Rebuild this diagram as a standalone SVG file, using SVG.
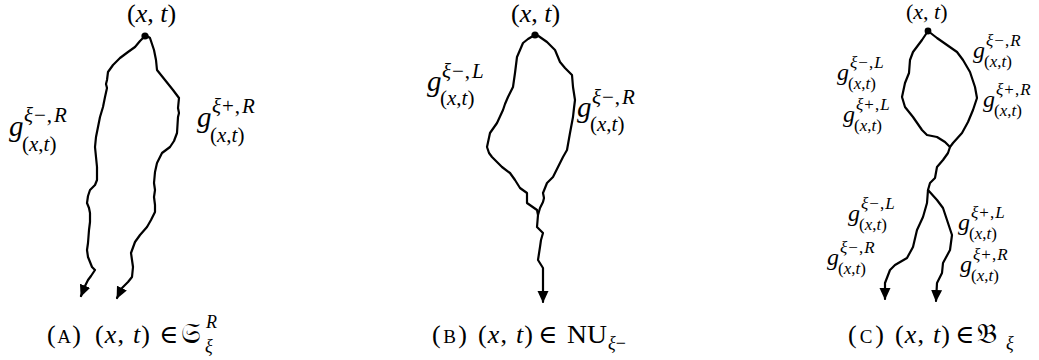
<svg xmlns="http://www.w3.org/2000/svg" width="1039" height="360" viewBox="0 0 1039 360">
<style>
text{font-family:"Liberation Serif","DejaVu Serif",serif;fill:#000}
.i{font-style:italic}
.g{font-size:29px;font-style:italic}
.s{font-size:21px}
.cs{font-size:18px}
.gc{font-size:24px;font-style:italic}
.sc{font-size:17px}
.top{font-size:26px}
.cap{font-size:26px}
.frak{font-family:"DejaVu Serif","DejaVu Sans","Noto Sans",serif;font-size:28px}
.p{fill:none;stroke:#000;stroke-width:2.2;stroke-linejoin:round;stroke-linecap:round}
.ar{marker-end:url(#ah)}
</style>
<defs>
<marker id="ah" viewBox="0 0 12 12" refX="11" refY="6" markerWidth="12" markerHeight="12" markerUnits="userSpaceOnUse" orient="auto">
<path d="M0,0.5 L12,6 L0,11.5 z" fill="#000"/>
</marker>
</defs>
<g id="connectors">
<path class="p ar" d="M145,36 L140,41 L135,47 L128,52 L120,58 L113,65 L108,72 L107,80 L106,84 L107,88 L105,97 L103,107 L100,117 L99,122 L98,127 L96,137 L95,147 L96,157 L97,167 L97,180 L95,185 L90,190 L88,196 L87,203 L89,208 L90,213 L90,222 L89,230 L88,243 L87,250 L88,257 L92,267 L95,270 L91,276 L88,280 L85,286 L81,296"/>
<path class="p ar" d="M147,36 L150,38 L152,44 L154,50 L156,60 L157,70 L161,75 L165,80 L173,90 L179,98 L178,108 L179,113 L178,117 L177,133 L174,141 L170,147 L162,153 L157,163 L155,172 L154,183 L155,190 L154,197 L155,205 L155,212 L151,220 L147,227 L140,235 L135,242 L131,253 L132,260 L133,267 L132,277 L128,282 L122,288 L117,298"/>
<path class="p" d="M533,36 L528,39 L523,43 L520,50 L517,57 L515,73 L513,87 L508,97 L505,104 L503,110 L497,123 L490,133 L487,147 L489,153 L492,157 L502,167 L510,173 L515,180 L520,188 L527,193 L527,203 L537,210 L538,215"/>
<path class="p" d="M537,35 L547,42 L555,50 L560,62 L565,68 L572,75 L573,87 L575,100 L574,108 L573,117 L570,133 L567,150 L563,157 L560,163 L553,177 L547,183 L543,193 L544,198 L543,202 L540,208 L538,215"/>
<path class="p ar" d="M538,215 L537,227 L543,233 L541,240 L540,247 L538,260 L543,268 L543,302"/>
<path class="p" d="M928,31 L922,40 L913,52 L910,60 L909,73 L905,83 L902,97 L905,107 L913,117 L922,130 L927,135 L937,137 L945,142 L950,147"/>
<path class="p" d="M928,31 L937,38 L947,45 L957,52 L963,60 L970,72 L975,87 L977,98 L973,110 L968,122 L962,133 L953,143 L950,147"/>
<path class="p" d="M950,147 L948,153 L943,160 L937,167 L935,178 L930,183 L928,190"/>
<path class="p ar" d="M928,190 L927,203 L923,217 L917,230 L913,247 L907,258 L895,265 L890,270 L885,283 L885,299"/>
<path class="p ar" d="M928,190 L937,200 L943,208 L947,220 L952,235 L950,250 L943,263 L942,273 L937,283 L936,301"/>
</g>
<g id="panelA">
<circle cx="145" cy="36" r="3.6"/>
<text class="top" x="127" y="22">(<tspan class="i">x</tspan>, <tspan class="i">t</tspan>)</text>
<g id="labelA1">
<text class="g" x="9" y="136">g</text>
<text class="s" x="24" y="122"><tspan class="i">ξ</tspan><tspan dx="1">−</tspan><tspan dx="1">,</tspan><tspan class="i" dx="2">R</tspan></text>
<text class="s" x="22" y="151">(<tspan class="i">x</tspan>,<tspan class="i">t</tspan>)</text>
</g>
<g id="labelA2">
<text class="g" x="197" y="127">g</text>
<text class="s" x="212" y="113"><tspan class="i">ξ</tspan><tspan dx="1">+</tspan><tspan dx="1">,</tspan><tspan class="i" dx="2">R</tspan></text>
<text class="s" x="210" y="142">(<tspan class="i">x</tspan>,<tspan class="i">t</tspan>)</text>
</g>
<text class="cap" x="47" y="343" textLength="34" lengthAdjust="spacing">(<tspan font-size="19">A</tspan>)</text>
<text class="cap" x="95" y="343" textLength="55" lengthAdjust="spacing">(<tspan class="i">x</tspan>, <tspan class="i">t</tspan>)</text>
<text class="cap" x="159" y="343">∈</text>
<text class="frak" x="181" y="343">𝔖</text>
<text class="cs i" x="206" y="328">R</text>
<text class="cs i" x="205" y="352">ξ</text>
</g>
<g id="panelB">
<circle cx="535" cy="35" r="3.6"/>
<text class="top" x="511" y="22">(<tspan class="i">x</tspan>, <tspan class="i">t</tspan>)</text>
<g id="labelB1">
<text class="g" x="427" y="91">g</text>
<text class="s" x="442" y="78"><tspan class="i">ξ</tspan><tspan dx="1">−</tspan><tspan dx="1">,</tspan><tspan class="i" dx="2">L</tspan></text>
<text class="s" x="440" y="105">(<tspan class="i">x</tspan>,<tspan class="i">t</tspan>)</text>
</g>
<g id="labelB2">
<text class="g" x="577" y="117">g</text>
<text class="s" x="592" y="104"><tspan class="i">ξ</tspan><tspan dx="1">−</tspan><tspan dx="1">,</tspan><tspan class="i" dx="2">R</tspan></text>
<text class="s" x="590" y="131">(<tspan class="i">x</tspan>,<tspan class="i">t</tspan>)</text>
</g>
<text class="cap" x="432" y="343" textLength="35" lengthAdjust="spacing">(<tspan font-size="19">B</tspan>)</text>
<text class="cap" x="478" y="343" textLength="55" lengthAdjust="spacing">(<tspan class="i">x</tspan>, <tspan class="i">t</tspan>)</text>
<text class="cap" x="538" y="343">∈</text>
<text class="cap" x="567" y="343" textLength="40" lengthAdjust="spacingAndGlyphs">NU</text>
<text class="cs" x="608" y="349"><tspan class="i">ξ</tspan>−</text>
</g>
<g id="panelC">
<circle cx="928" cy="31" r="3.4"/>
<text class="top" x="906" y="19" style="font-size:22px">(<tspan class="i">x</tspan>, <tspan class="i">t</tspan>)</text>
<g id="labelC1">
<text class="gc" x="837" y="80">g</text>
<text class="sc" x="850" y="68"><tspan class="i">ξ</tspan><tspan dx="1">−</tspan><tspan dx="1">,</tspan><tspan class="i" dx="1">L</tspan></text>
<text class="sc" x="848" y="89">(<tspan class="i">x</tspan>,<tspan class="i">t</tspan>)</text>
</g>
<g id="labelC2">
<text class="gc" x="843" y="122">g</text>
<text class="sc" x="856" y="110"><tspan class="i">ξ</tspan><tspan dx="1">+</tspan><tspan dx="1">,</tspan><tspan class="i" dx="1">L</tspan></text>
<text class="sc" x="854" y="131">(<tspan class="i">x</tspan>,<tspan class="i">t</tspan>)</text>
</g>
<g id="labelC3">
<text class="gc" x="973" y="58">g</text>
<text class="sc" x="986" y="46"><tspan class="i">ξ</tspan><tspan dx="1">−</tspan><tspan dx="1">,</tspan><tspan class="i" dx="1">R</tspan></text>
<text class="sc" x="984" y="67">(<tspan class="i">x</tspan>,<tspan class="i">t</tspan>)</text>
</g>
<g id="labelC4">
<text class="gc" x="983" y="107">g</text>
<text class="sc" x="996" y="95"><tspan class="i">ξ</tspan><tspan dx="1">+</tspan><tspan dx="1">,</tspan><tspan class="i" dx="1">R</tspan></text>
<text class="sc" x="994" y="116">(<tspan class="i">x</tspan>,<tspan class="i">t</tspan>)</text>
</g>
<g id="labelC5">
<text class="gc" x="848" y="221">g</text>
<text class="sc" x="861" y="209"><tspan class="i">ξ</tspan><tspan dx="1">−</tspan><tspan dx="1">,</tspan><tspan class="i" dx="1">L</tspan></text>
<text class="sc" x="859" y="230">(<tspan class="i">x</tspan>,<tspan class="i">t</tspan>)</text>
</g>
<g id="labelC6">
<text class="gc" x="827" y="265">g</text>
<text class="sc" x="840" y="253"><tspan class="i">ξ</tspan><tspan dx="1">−</tspan><tspan dx="1">,</tspan><tspan class="i" dx="1">R</tspan></text>
<text class="sc" x="838" y="274">(<tspan class="i">x</tspan>,<tspan class="i">t</tspan>)</text>
</g>
<g id="labelC7">
<text class="gc" x="958" y="230">g</text>
<text class="sc" x="971" y="218"><tspan class="i">ξ</tspan><tspan dx="1">+</tspan><tspan dx="1">,</tspan><tspan class="i" dx="1">L</tspan></text>
<text class="sc" x="969" y="239">(<tspan class="i">x</tspan>,<tspan class="i">t</tspan>)</text>
</g>
<g id="labelC8">
<text class="gc" x="960" y="272">g</text>
<text class="sc" x="973" y="260"><tspan class="i">ξ</tspan><tspan dx="1">+</tspan><tspan dx="1">,</tspan><tspan class="i" dx="1">R</tspan></text>
<text class="sc" x="971" y="281">(<tspan class="i">x</tspan>,<tspan class="i">t</tspan>)</text>
</g>
<text class="cap" x="848" y="343" textLength="36" lengthAdjust="spacing">(<tspan font-size="19">C</tspan>)</text>
<text class="cap" x="895" y="343" textLength="55" lengthAdjust="spacing">(<tspan class="i">x</tspan>, <tspan class="i">t</tspan>)</text>
<text class="cap" x="955" y="343">∈</text>
<text class="frak" x="977" y="343">𝔅</text>
<text class="cs i" x="1006" y="349">ξ</text>
</g>
</svg>
